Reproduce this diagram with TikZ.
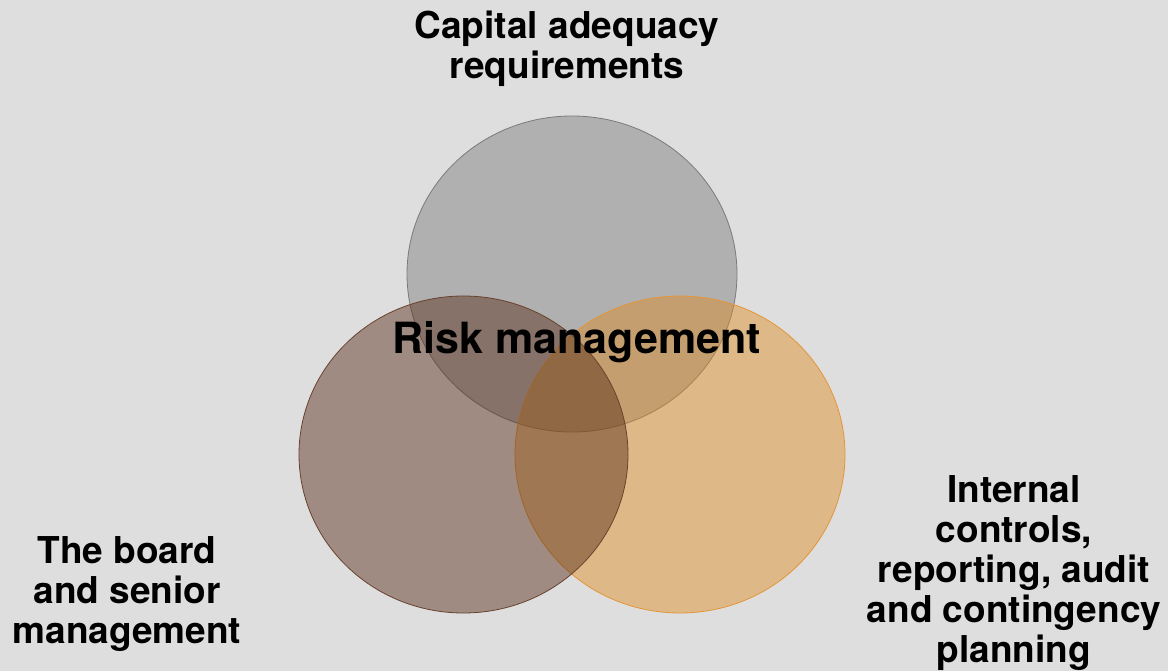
\documentclass[tikz,border=0pt]{standalone}
\usepackage{fontspec}
\setmainfont{TeX Gyre Heros}
\definecolor{bgc}{RGB}{222,222,222}
\definecolor{capfill}{RGB}{120,120,120}
\definecolor{capline}{RGB}{122,122,122}
\definecolor{boardfill}{RGB}{84,40,18}
\definecolor{boardline}{RGB}{105,66,46}
\definecolor{ctrlfill}{RGB}{222,138,31}
\definecolor{ctrlline}{RGB}{226,150,58}
\begin{document}
\begin{tikzpicture}[x=1pt,y=-1pt,
  setarea/.style={fill opacity=0.45, line width=0.8pt},
  lbl/.style={align=center, font=\fontsize{37}{40}\selectfont\bfseries, inner sep=0pt}]
  \fill[bgc] (0,0) rectangle (1168,671);
  \useasboundingbox (0,0) rectangle (1168,671);
  % three overlapping sets
  \draw[setarea, fill=capfill, draw=capline] (572,274) ellipse [x radius=165, y radius=158];
  \draw[setarea, fill=ctrlfill, draw=ctrlline] (680,454.5) ellipse [x radius=165, y radius=158.5];
  \draw[setarea, fill=boardfill, draw=boardline] (463.5,454.5) ellipse [x radius=164.5, y radius=158.5];
  % labels
  \node[inner sep=0pt, font=\fontsize{43}{46}\selectfont\bfseries] (core) at (577,342) {Risk management};
  \node[lbl] (cap) at (567,49) {Capital adequacy\\requirements};
  \node[lbl] (board) at (127,594) {The board\\and senior\\management};
  \node[lbl] (ctrl) at (1014,573) {Internal\\controls,\\reporting, audit\\and contingency\\planning};
\end{tikzpicture}
\end{document}
